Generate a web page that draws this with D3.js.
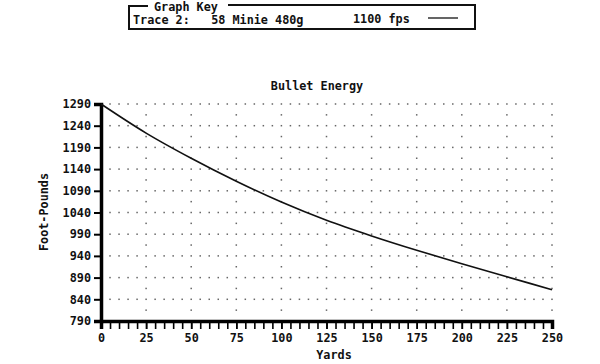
<!DOCTYPE html>
<html><head><meta charset="utf-8">
<script src="https://cdn.jsdelivr.net/npm/d3@7"></script>
<style>
html,body{margin:0;padding:0;background:#fff;}
svg text{font-family:"DejaVu Sans Mono",monospace;font-weight:bold;fill:#111;}
</style></head>
<body>
<svg id="c" width="600" height="364"></svg>
<script>
const title = "Bullet Energy";
const keyTitle = "Graph Key";
const traceLabel = "Trace 2:   58 Minie 480g";
const traceVel = "1100 fps";
const xLabel = "Yards";
const yLabel = "Foot-Pounds";
const yards = [0, 25, 50, 75, 100, 125, 150, 175, 200, 225, 250];
const energy = [1290, 1223, 1165, 1112, 1064, 1022, 986, 953, 922, 892, 862];
const xTicks = [0, 25, 50, 75, 100, 125, 150, 175, 200, 225, 250];
const yTicks = [790, 840, 890, 940, 990, 1040, 1090, 1140, 1190, 1240, 1290];

const svg = d3.select("#c");
const x = d3.scaleLinear().domain([0, 250]).range([101, 552]);
const y = d3.scaleLinear().domain([790, 1290]).range([321, 104]);
const fs = "11.8px";

// grid dots
const dots = svg.append("g").attr("fill", "#666");
yTicks.slice(1).forEach(v => {
  d3.range(5, 251, 5).forEach(xv => {
    dots.append("rect").attr("x", x(xv) - 0.75).attr("y", y(v) - 0.75).attr("width", 1.5).attr("height", 1.5);
  });
});
xTicks.slice(1).forEach(xv => {
  d3.range(815, 1291, 50).forEach(v => {
    dots.append("rect").attr("x", x(xv) - 0.75).attr("y", y(v) - 0.75).attr("width", 1.5).attr("height", 1.5);
  });
});

// axes
const yAxis = d3.axisLeft(y).tickValues(yTicks).tickSize(7).tickPadding(3).tickFormat(d3.format("d"));
const gy = svg.append("g").attr("transform", `translate(${x(0)},0)`).call(yAxis);
gy.select(".domain").attr("stroke", "#000").attr("stroke-width", 3.5);
gy.selectAll(".tick line").attr("stroke", "#000").attr("stroke-width", 2);
gy.selectAll(".tick text").attr("font-size", fs).attr("font-family", "DejaVu Sans Mono").attr("font-weight", "bold").attr("fill", "#111");

const xAxisMinor = d3.axisBottom(x).tickValues(d3.range(0, 251, 5)).tickSize(8).tickFormat("");
const gxm = svg.append("g").attr("transform", `translate(0,${y(790)})`).call(xAxisMinor);
gxm.select(".domain").remove();
gxm.selectAll(".tick line").attr("stroke", "#000").attr("stroke-width", 1.6);

const xAxis = d3.axisBottom(x).tickValues(xTicks).tickSize(8).tickPadding(5).tickFormat(d3.format("d"));
const gx = svg.append("g").attr("transform", `translate(0,${y(790)})`).call(xAxis);
gx.select(".domain").attr("stroke", "#000").attr("stroke-width", 3.5);
gx.selectAll(".tick line").attr("stroke", "#000").attr("stroke-width", 1.6);
gx.selectAll(".tick text").attr("font-size", fs).attr("font-family", "DejaVu Sans Mono").attr("font-weight", "bold").attr("fill", "#111");

// curve
const line = d3.line().x((d, i) => x(yards[i])).y(d => y(d)).curve(d3.curveMonotoneX);
svg.append("path").datum(energy).attr("d", line).attr("fill", "none").attr("stroke", "#111").attr("stroke-width", 1.6);

// titles
svg.append("text").attr("x", 317).attr("y", 90).attr("text-anchor", "middle").attr("font-size", fs).text(title);
svg.append("text").attr("x", 334).attr("y", 359).attr("text-anchor", "middle").attr("font-size", fs).text(xLabel);
svg.append("text").attr("transform", "translate(48,212) rotate(-90)").attr("text-anchor", "middle").attr("font-size", fs).text(yLabel);

// key box
const kg = svg.append("g");
kg.append("path").attr("d", "M148,6 H129 V29 H475 V5 H228").attr("fill", "none").attr("stroke", "#111").attr("stroke-width", 2);
kg.append("text").attr("x", 154).attr("y", 11).attr("font-size", fs).text(keyTitle);
kg.append("text").attr("x", 133).attr("y", 24).attr("font-size", fs).style("white-space", "pre").text(traceLabel);
kg.append("text").attr("x", 353).attr("y", 23).attr("font-size", fs).text(traceVel);
kg.append("line").attr("x1", 428).attr("x2", 458).attr("y1", 18).attr("y2", 18).attr("stroke", "#111").attr("stroke-width", 1.3);
</script>
</body></html>
